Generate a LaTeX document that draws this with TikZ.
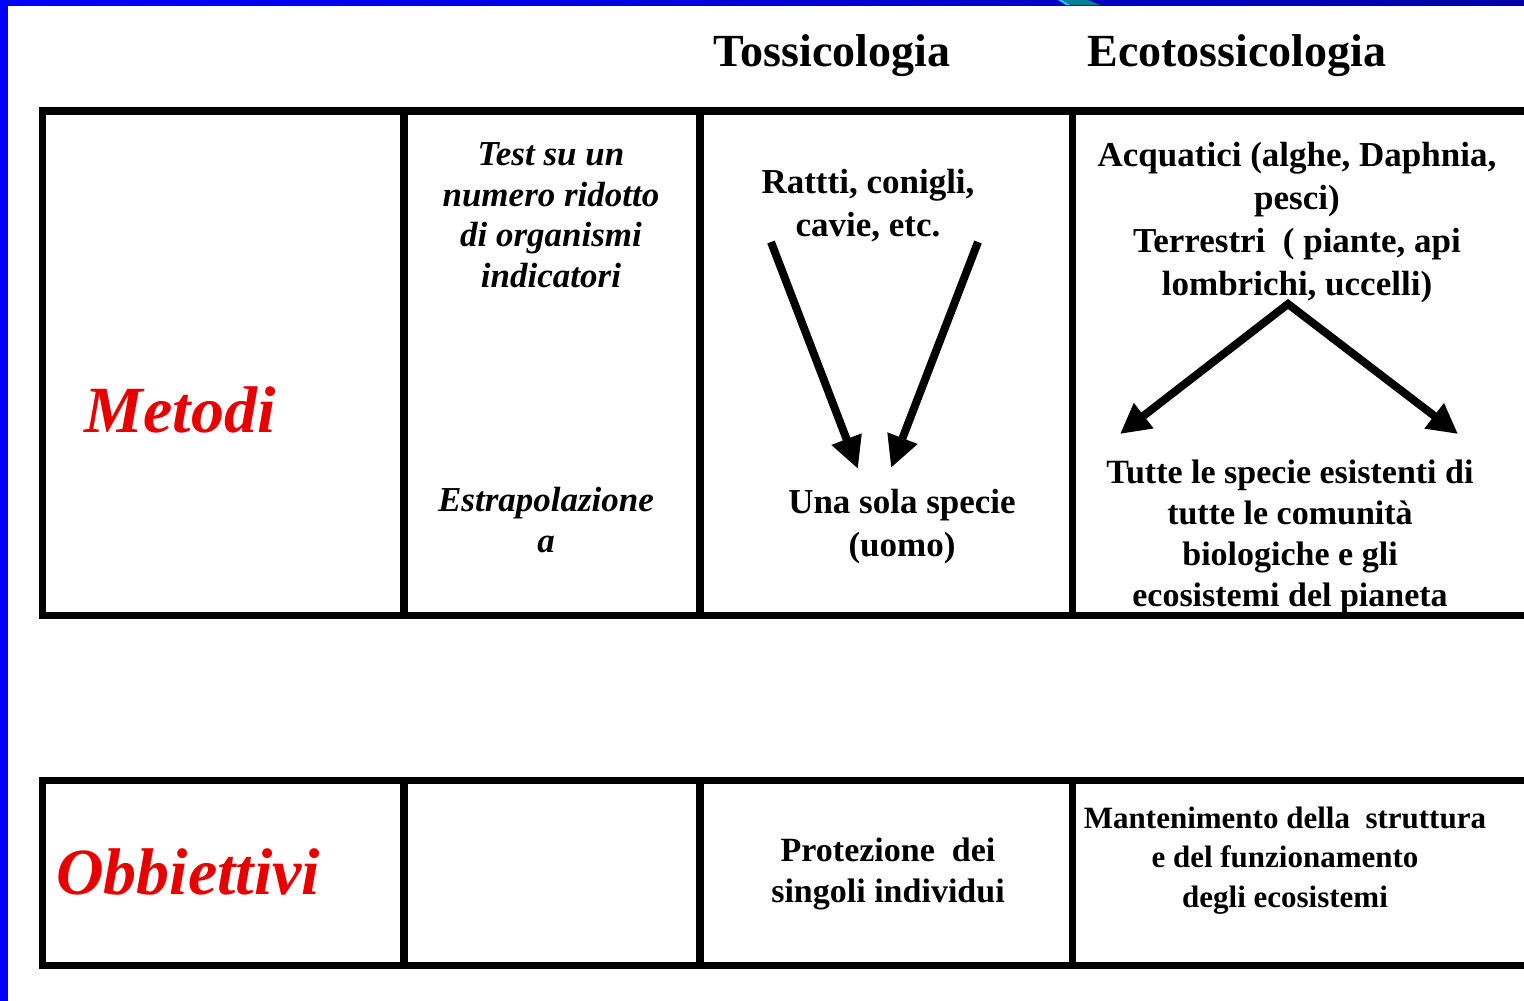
\documentclass[tikz,border=0pt]{standalone}
\usepackage{fontspec}
\setmainfont{Liberation Serif}
\usetikzlibrary{arrows.meta}
\definecolor{frameblue}{RGB}{0,0,255}
\definecolor{darkframe}{RGB}{0,0,170}
\definecolor{labred}{RGB}{230,0,0}
\definecolor{tealmark}{RGB}{0,128,150}
\definecolor{cyanmark}{RGB}{40,200,255}
\begin{document}
\begin{tikzpicture}[x=1pt,y=-1pt,
  grid/.style={line width=7.5pt, black, line join=miter},
  hdr/.style={font=\bfseries\fontsize{46}{52}\selectfont, anchor=base, inner sep=0pt},
  rowlab/.style={font=\bfseries\itshape\fontsize{66}{72}\selectfont, text=labred, anchor=base, inner sep=0pt},
  itbody/.style={font=\bfseries\itshape\fontsize{35}{40.5}\selectfont, align=center, anchor=base, inner sep=0pt},
  body/.style={font=\bfseries\fontsize{35}{43}\selectfont, align=center, anchor=base, inner sep=0pt},
  bodyb/.style={font=\bfseries\fontsize{34}{41}\selectfont, align=center, anchor=base, inner sep=0pt},
  smallbody/.style={font=\bfseries\fontsize{31}{39.5}\selectfont, align=center, anchor=base, inner sep=0pt},
  bigarrow/.style={line width=8pt, black, -{Triangle[length=32pt,width=30pt]}},
  vee/.style={line width=8pt, black, line join=miter, {Triangle[length=30pt,width=30pt]}-{Triangle[length=30pt,width=30pt]}}
]
\useasboundingbox (0,0) rectangle (1524,1001);
\fill[white] (0,0) rectangle (1524,1001);
% blue frame
\fill[frameblue] (0,0) rectangle (8,1001);
\shade[left color=frameblue, right color=darkframe] (0,0) rectangle (1524,5);
\fill[tealmark] (1062,0) -- (1088,0) -- (1100,5) -- (1070,5) -- cycle;
\fill[cyanmark] (1058,0) -- (1062,0) -- (1070,5) -- (1066,5) -- cycle;

% table 1
\draw[grid] (1530,111) -- (42.5,111) -- (42.5,615.5) -- (1530,615.5);
\draw[grid] (404,111) -- (404,615.5);
\draw[grid] (700,111) -- (700,615.5);
\draw[grid] (1072.5,111) -- (1072.5,615.5);
% table 2
\draw[grid] (1530,780.5) -- (42.5,780.5) -- (42.5,965.5) -- (1530,965.5);
\draw[grid] (404,780.5) -- (404,965.5);
\draw[grid] (700,780.5) -- (700,965.5);
\draw[grid] (1072.5,780.5) -- (1072.5,965.5);

% headers
\node[hdr] (tox) at (832,66) {Tossicologia};
\node[hdr] (ecotox) at (1237,66) {Ecotossicologia};
% row labels
\node[rowlab] (metodi) at (180,432) {Metodi};
\node[rowlab] (obb) at (188,894) {Obbiettivi};
% cells (anchor=base is the baseline of the last line)
\node[itbody] (test) at (551,287) {Test su un\\numero ridotto\\di organismi\\indicatori};
\node[itbody] (estra) at (546,552) {Estrapolazione\\a};
\node[body] (ratti) at (868,236) {Rattti, conigli,\\cavie, etc.};
\node[body] (una) at (902,556) {Una sola specie\\(uomo)};
\node[body] (acq) at (1297,295) {Acquatici (alghe, Daphnia,\\pesci)\\Terrestri\ \ ( piante, api\\lombrichi, uccelli)};
\node[bodyb] (tutte) at (1290,606) {Tutte le specie esistenti di\\tutte le comunità\\biologiche e gli\\ecosistemi del pianeta};
\node[bodyb] (prot) at (888,902) {Protezione\ \ dei\\singoli individui};
\node[smallbody] (mant) at (1285,907) {Mantenimento della\ \ struttura\\e del funzionamento\\degli ecosistemi};

% arrows
\coordinate (a1s) at (771,242);
\coordinate (a1e) at (858,469);
\coordinate (a2s) at (978,242);
\coordinate (a2e) at (891,468);
\coordinate (apex) at (1288,304);
\coordinate (eL) at (1120,434);
\coordinate (eR) at (1458,434);
\draw[bigarrow] (a1s) -- (a1e);
\draw[bigarrow] (a2s) -- (a2e);
\draw[vee] (eL) -- (apex) -- (eR);
\end{tikzpicture}
\end{document}
